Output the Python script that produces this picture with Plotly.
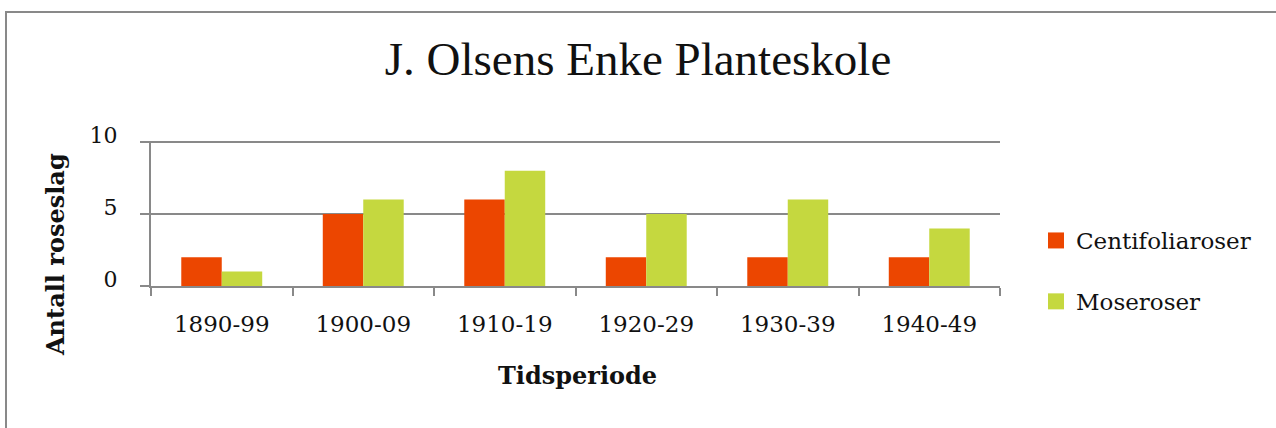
import plotly.graph_objects as go

periods = ["1890-99", "1900-09", "1910-19", "1920-29", "1930-39", "1940-49"]
centifoliaroser = [2, 5, 6, 2, 2, 2]
moseroser = [1, 6, 8, 5, 6, 4]
y_ticks = [0, 5, 10]

RED = "#EC4600"
GREEN = "#C5D83F"
GRAY = "#898989"
SERIF = "DejaVu Serif"
TITLE_FONT = "'Liberation Serif', 'Times New Roman', Times, serif"

fig = go.Figure()
fig.add_trace(go.Bar(x=periods, y=centifoliaroser, name="Centifoliaroser",
                     marker=dict(color=RED, line=dict(width=0)), showlegend=False))
fig.add_trace(go.Bar(x=periods, y=moseroser, name="Moseroser",
                     marker=dict(color=GREEN, line=dict(width=0)), showlegend=False))
# legend entries
fig.add_trace(go.Scatter(x=[None], y=[None], mode="markers", name="Centifoliaroser",
                         legendgroup="a",
                         marker=dict(symbol="square", size=16, color=RED)))
fig.add_trace(go.Scatter(x=[None], y=[None], mode="markers", name="Moseroser",
                         legendgroup="b",
                         marker=dict(symbol="square", size=16, color=GREEN)))

L, R, T, B = 151, 1000, 141, 286
W, H = 1276, 428
pw, ph = R - L, B - T

def px(x):
    return (x - L) / pw

def py(y):
    return (B - y) / ph

fig.update_layout(
    width=W, height=H,
    margin=dict(l=L, r=W - R, t=T, b=H - B, autoexpand=False),
    paper_bgcolor="white", plot_bgcolor="white",
    barmode="group", bargap=0.428, bargroupgap=0,
    font=dict(family=SERIF, size=20, color="#111111"),
    title=dict(text="J. Olsens Enke Planteskole", x=0.5, xanchor="center",
               y=1 - 59 / H, yanchor="middle",
               font=dict(family=TITLE_FONT, size=47, color="#111111")),
    legend=dict(x=px(1036), xanchor="left", y=py(219), yanchor="top",
                font=dict(family=SERIF, size=23, color="#111111"),
                tracegroupgap=28, traceorder="grouped",
                bgcolor="rgba(0,0,0,0)"),
    showlegend=True,
)
fig.update_xaxes(type="category", showline=True, linecolor=GRAY, linewidth=2,
                 ticks="outside", tickson="boundaries", ticklen=8, tickwidth=2,
                 tickcolor=GRAY, showgrid=False, ticklabelstandoff=16,
                 tickfont=dict(family=SERIF, size=23, color="#111111"),
                 fixedrange=True)
fig.update_yaxes(range=[0, 10.07], tickvals=y_ticks, ticktext=[str(v) for v in y_ticks],
                 showline=True, linecolor=GRAY, linewidth=2,
                 ticks="outside", ticklen=9, tickwidth=2, tickcolor=GRAY,
                 showgrid=True, gridcolor=GRAY, gridwidth=2, zeroline=False,
                 ticklabelstandoff=18, ticklabelshift=-7,
                 tickfont=dict(family=SERIF, size=22, color="#111111"),
                 fixedrange=True)

fig.add_annotation(text="<b>Antall roseslag</b>", textangle=-90,
                   xref="paper", yref="paper", x=px(55), y=py(255),
                   xanchor="center", yanchor="middle", showarrow=False,
                   font=dict(family=SERIF, size=24, color="#111111"))
fig.add_annotation(text="<b>Tidsperiode</b>",
                   xref="paper", yref="paper", x=px(577), y=py(375),
                   xanchor="center", yanchor="middle", showarrow=False,
                   font=dict(family=SERIF, size=24, color="#111111"))

# outer chart border
fig.add_shape(type="rect", xref="paper", yref="paper",
              x0=px(6), x1=px(1300), y0=py(460), y1=py(12),
              line=dict(color=GRAY, width=2), fillcolor="rgba(0,0,0,0)",
              layer="below")

fig.write_html("out.html", config={"displayModeBar": False},
               post_script="document.body.style.margin='0';document.body.style.padding='0';")
